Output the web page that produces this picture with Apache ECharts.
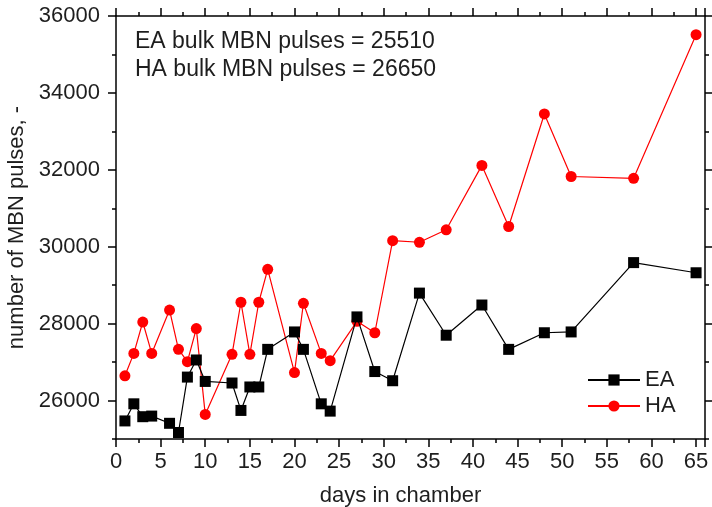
<!DOCTYPE html>
<html>
<head>
<meta charset="utf-8">
<script src="https://cdn.jsdelivr.net/npm/echarts@6/dist/echarts.min.js"></script>
<style>
html,body{margin:0;padding:0;background:#fff;}
#c{width:712px;height:507px;}
</style>
</head>
<body>
<div id="c"></div>
<script>
const days = [1,2,3,4,6,7,8,9,10,13,14,15,16,17,20,21,23,24,27,29,31,34,37,41,44,48,51,58,65];
const EA = [25470,25915,25580,25596,25408,25169,26610,27055,26497,26456,25743,26353,26353,27331,27784,27331,25915,25725,28175,26754,26515,28794,27699,28484,27331,27763,27784,29587,29323];
const HA = [26643,27226,28042,27226,28352,27331,27012,27871,25640,27201,28556,27201,28556,29413,26728,28529,27226,27037,28061,27763,30158,30116,30440,32115,30526,33452,31826,31780,35515];
const seriesNames = ['EA','HA'];
const bulkEA = 25510;
const bulkHA = 26650;
const yMajorTicks = [26000,28000,30000,32000,34000,36000];
const yMinorTicks = [25000,27000,29000,31000,33000,35000];
const xName = 'days in chamber';
const yName = 'number of MBN pulses, -';

const FONT = 'Liberation Sans, Arial, sans-serif';
const TXT = '#1e1e1e';
const line = {show:true, lineStyle:{color:'#000', width:1.5}};

function yAx(pos, ticks, len, labels, showLine, extra){
  return Object.assign({
    type:'value', position:pos, min:25000, max:36000, offset:0,
    axisLine: showLine ? line : {show:false},
    axisTick:{show:true, inside:false, length:len, customValues:ticks, lineStyle:{color:'#000', width:1.5}},
    axisLabel: labels ? {show:true, customValues:yMajorTicks, formatter:(v)=>String(v), fontFamily:FONT, fontSize:22, color:TXT, margin:16} : {show:false},
    splitLine:{show:false}
  }, extra||{});
}

const chart = echarts.init(document.getElementById('c'), null, {renderer:'canvas'});
chart.setOption({
  animation:false,
  backgroundColor:'#fff',
  grid:{left:116, right:7, top:16, bottom:68, containLabel:false, outerBoundsMode:'none'},
  xAxis:[
    {type:'value', position:'bottom', min:0, max:66, interval:5,
     axisLine:line,
     axisTick:{show:true, length:8, lineStyle:{color:'#000', width:1.5}},
     minorTick:{show:true, splitNumber:2, length:4, lineStyle:{color:'#000', width:1.5}},
     axisLabel:{show:true, fontFamily:FONT, fontSize:22, color:TXT, margin:12, showMaxLabel:false},
     splitLine:{show:false}, minorSplitLine:{show:false},
     name:xName, nameLocation:'middle', nameGap:46,
     nameTextStyle:{fontFamily:FONT, fontSize:22, color:TXT, padding:[0,20,0,0]}},
    {type:'value', position:'top', min:0, max:66, interval:5,
     axisLine:line,
     axisTick:{show:true, length:8, lineStyle:{color:'#000', width:1.5}},
     minorTick:{show:true, splitNumber:2, length:4, lineStyle:{color:'#000', width:1.5}},
     axisLabel:{show:false}, splitLine:{show:false}, minorSplitLine:{show:false}}
  ],
  yAxis:[
    yAx('left', yMajorTicks, 8, true, true, {name:yName, nameLocation:'middle', nameGap:87,
      nameTextStyle:{fontFamily:FONT, fontSize:22, color:TXT}}),
    yAx('left', yMinorTicks, 4, false, false),
    yAx('right', yMajorTicks, 8, false, true),
    yAx('right', yMinorTicks, 4, false, false)
  ],
  legend:{
    orient:'vertical', left:582, top:364, itemWidth:52, itemHeight:14, itemGap:4,
    textStyle:{fontFamily:FONT, fontSize:22, color:TXT},
    data:seriesNames
  },
  graphic:[
    {type:'text', left:135, top:30, style:{text:'EA bulk MBN pulses = ' + bulkEA, font:'23px ' + FONT, fill:TXT}},
    {type:'text', left:135, top:58, style:{text:'HA bulk MBN pulses = ' + bulkHA, font:'23px ' + FONT, fill:TXT}}
  ],
  series:[
    {name:seriesNames[0], type:'line', xAxisIndex:0, yAxisIndex:0,
     data:days.map((d,i)=>[d,EA[i]]),
     symbol:'rect', symbolSize:11, color:'#000',
     lineStyle:{color:'#000', width:1.2}, itemStyle:{color:'#000'}, z:3},
    {name:seriesNames[1], type:'line', xAxisIndex:0, yAxisIndex:0,
     data:days.map((d,i)=>[d,HA[i]]),
     symbol:'circle', symbolSize:11, color:'#ff0000',
     lineStyle:{color:'#ff0000', width:1.2}, itemStyle:{color:'#ff0000'}, z:2}
  ]
});
</script>
</body>
</html>
